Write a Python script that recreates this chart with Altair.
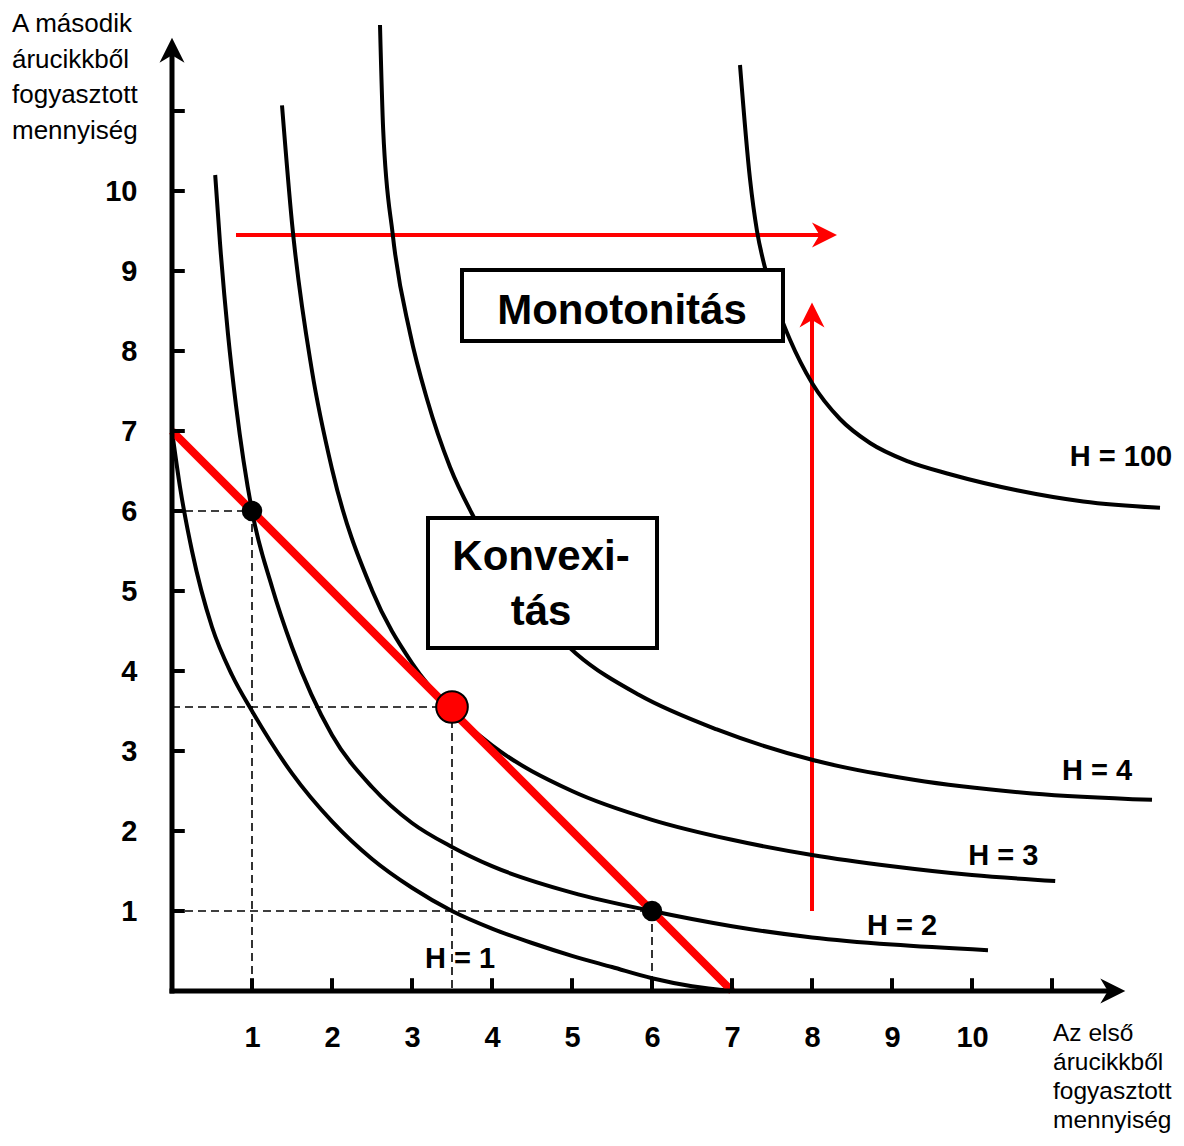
import altair as alt
import pandas as pd

FONT = "Liberation Sans"

# ---- indifference curves ----
h1_x = [0, 0.1, 0.25, 0.5, 0.75, 1, 1.5, 2, 2.5, 3, 3.5, 4, 4.5, 5, 5.5, 6, 6.5, 7]
h1_y = [7, 6.3, 5.5, 4.55, 3.95, 3.5, 2.72, 2.12, 1.65, 1.29, 1.0, 0.78, 0.6, 0.44, 0.3, 0.16, 0.06, 0]

h2_x = [0.54, 0.6, 0.7, 0.8, 1, 1.25, 1.5, 2, 2.5, 3, 3.5, 4, 5, 6, 7, 8, 9, 10.2]
h2_y = [10.2, 9.35, 8.21, 7.32, 6, 5.05, 4.3, 3.2, 2.55, 2.1, 1.8, 1.56, 1.23, 1.0, 0.81, 0.67, 0.58, 0.51]

h3_x = [1.375, 1.5, 1.75, 2, 2.5, 3, 3.5, 4, 5, 6, 7, 8, 9, 10, 11.04]
h3_y = [11.07, 9.6, 7.75, 6.525, 5.01, 4.10, 3.5, 3.07, 2.5, 2.14, 1.89, 1.70, 1.56, 1.45, 1.375]

h4_x = [2.6, 2.64, 2.76, 2.975, 3.19, 3.475, 3.79, 4.4, 5.05, 5.84, 6.81, 8.0, 9.27, 10.75, 12.25]
h4_y = [12.075, 10.76, 9.45, 8.225, 7.39, 6.55, 5.89, 4.9, 4.22, 3.70, 3.27, 2.89, 2.64, 2.47, 2.39]

h100_x = [7.1, 7.225, 7.3125, 7.4125, 7.575, 7.725, 8.0, 8.35, 8.725, 9.2, 9.725, 10.56, 11.39, 12.35]
h100_y = [11.575, 10.15, 9.5, 9.04, 8.52, 8.14, 7.6, 7.15, 6.85, 6.62, 6.46, 6.26, 6.12, 6.04]

# budget line
budget_x = [0, 7]
budget_y = [7, 0]

# chosen bundles
black_dot_x = [1, 6]
black_dot_y = [6, 1]
red_dot_x = [3.5]
red_dot_y = [3.55]

# dashed guides (x, y, x2, y2)
guide_x = [0, 1, 0, 3.5, 0, 6]
guide_y = [6, 6, 3.55, 3.55, 1, 1]
guide_x2 = [1, 1, 3.5, 3.5, 6, 6]
guide_y2 = [6, 0, 3.55, 0, 1, 0]

# axis ticks
tick_values = [1, 2, 3, 4, 5, 6, 7, 8, 9, 10, 11]
label_values = [1, 2, 3, 4, 5, 6, 7, 8, 9, 10]

# curve labels
curve_labels = ["H = 1", "H = 2", "H = 3", "H = 4", "H = 100"]
curve_label_x = [3.6, 9.125, 10.39, 11.5625, 11.8625]
curve_label_y = [0.2875, 0.7, 1.575, 2.6375, 6.5625]

# boxes
box_x = [3.625, 3.2]
box_x2 = [7.6375, 6.0625]
box_y = [9.0125, 5.9125]
box_y2 = [8.125, 4.2875]
box_text = ["Monotonitás", "Konvexi-", "tás"]
box_text_x = [5.625, 4.6125, 4.6125]
box_text_y = [8.3375, 5.2625, 4.575]

# axis titles
ytitle_lines = ["A második", "árucikkből", "fogyasztott", "mennyiség"]
ytitle_x = [-2.0, -2.0, -2.0, -2.0]
ytitle_y = [11.9875, 11.54375, 11.1, 10.65625]
xtitle_lines = ["Az első", "árucikkből", "fogyasztott", "mennyiség"]
xtitle_x = [11.0125, 11.0125, 11.0125, 11.0125]
xtitle_y = [-0.625, -0.9875, -1.35, -1.7125]

# red arrows (monotonicity)
arrow_x = [0.8, 8.0]
arrow_y = [9.45, 1.0]
arrow_x2 = [8.1, 8.0]
arrow_y2 = [9.45, 8.4]
arrowhead_right = (8.156, 9.45)
arrowhead_up = (8.0, 8.45)

# axes
axis_x = [0, 0]
axis_y = [0, 0]
axis_x2 = [0, 11.75]
axis_y2 = [11.75, 0]
axis_head_up = (0, 11.76)
axis_head_right = (11.76, 0)

# ---------------- chart ----------------
xs = alt.Scale(domain=[0, 12.55], nice=False, zero=False)
ys = alt.Scale(domain=[0, 12.2875], nice=False, zero=False)

AX = alt.Axis(values=label_values, title=None, domain=False, ticks=False, grid=False,
              labelPadding=46, labelBaseline="middle", labelFontSize=29,
              labelFontWeight="bold", labelFont=FONT, labelColor="black",
              labelFlush=False, labelOverlap=False)
AY = alt.Axis(values=label_values, title=None, domain=False, ticks=False, grid=False,
              labelPadding=35, labelFontSize=29, labelFontWeight="bold",
              labelFont=FONT, labelColor="black", labelFlush=False, labelOverlap=False)


def X(f="x"):
    return alt.X(f"{f}:Q", scale=xs, axis=AX)


def Y(f="y"):
    return alt.Y(f"{f}:Q", scale=ys, axis=AY)


curves = pd.concat([
    pd.DataFrame({"x": h1_x, "y": h1_y, "c": "H1"}),
    pd.DataFrame({"x": h2_x, "y": h2_y, "c": "H2"}),
    pd.DataFrame({"x": h3_x, "y": h3_y, "c": "H3"}),
    pd.DataFrame({"x": h4_x, "y": h4_y, "c": "H4"}),
    pd.DataFrame({"x": h100_x, "y": h100_y, "c": "H100"}),
], ignore_index=True)

curve_layer = alt.Chart(curves).mark_line(
    color="black", strokeWidth=4, interpolate="monotone"
).encode(x=X(), y=Y(), detail="c:N")

budget_layer = alt.Chart(pd.DataFrame({"x": budget_x, "y": budget_y})).mark_line(
    color="#ff0000", strokeWidth=8
).encode(x=X(), y=Y())

guides = pd.DataFrame({"x": guide_x, "y": guide_y, "x2": guide_x2, "y2": guide_y2})
guide_layer = alt.Chart(guides).mark_rule(
    color="black", strokeWidth=1.6, strokeDash=[8, 5]
).encode(x=X(), y=Y(), x2="x2:Q", y2="y2:Q")

axes = pd.DataFrame({"x": axis_x, "y": axis_y, "x2": axis_x2, "y2": axis_y2})
axis_layer = alt.Chart(axes).mark_rule(color="black", strokeWidth=5, strokeCap="square").encode(
    x=X(), y=Y(), x2="x2:Q", y2="y2:Q")

xticks = pd.DataFrame({"x": tick_values, "y": [0] * len(tick_values)})
xtick_layer = alt.Chart(xticks).mark_rule(color="black", strokeWidth=4).encode(
    x=X(), y=Y(), y2=alt.Y2(datum=0.16))
yticks = pd.DataFrame({"x": [0] * len(tick_values), "y": tick_values})
ytick_layer = alt.Chart(yticks).mark_rule(color="black", strokeWidth=4).encode(
    x=X(), y=Y(), x2=alt.X2(datum=0.16))

UP = "M0,-1L1,1L0,0.4L-1,1Z"
RIGHT = "M1,0L-1,-1L-0.4,0L-1,1Z"

axis_heads_up = alt.Chart(pd.DataFrame({"x": [axis_head_up[0]], "y": [axis_head_up[1]]})).mark_point(
    shape=UP, filled=True, size=625, color="black", opacity=1, strokeWidth=0).encode(x=X(), y=Y())
axis_heads_right = alt.Chart(pd.DataFrame({"x": [axis_head_right[0]], "y": [axis_head_right[1]]})).mark_point(
    shape=RIGHT, filled=True, size=625, color="black", opacity=1, strokeWidth=0).encode(x=X(), y=Y())

arrows = pd.DataFrame({"x": arrow_x, "y": arrow_y, "x2": arrow_x2, "y2": arrow_y2})
arrow_layer = alt.Chart(arrows).mark_rule(color="#ff0000", strokeWidth=4).encode(
    x=X(), y=Y(), x2="x2:Q", y2="y2:Q")
red_head_right = alt.Chart(pd.DataFrame({"x": [arrowhead_right[0]], "y": [arrowhead_right[1]]})).mark_point(
    shape=RIGHT, filled=True, size=625, color="#ff0000", opacity=1, strokeWidth=0).encode(x=X(), y=Y())
red_head_up = alt.Chart(pd.DataFrame({"x": [arrowhead_up[0]], "y": [arrowhead_up[1]]})).mark_point(
    shape=UP, filled=True, size=625, color="#ff0000", opacity=1, strokeWidth=0).encode(x=X(), y=Y())

black_dots = alt.Chart(pd.DataFrame({"x": black_dot_x, "y": black_dot_y})).mark_point(
    shape="circle", filled=True, size=420, color="black", opacity=1, strokeWidth=0).encode(x=X(), y=Y())
red_dot = alt.Chart(pd.DataFrame({"x": red_dot_x, "y": red_dot_y})).mark_point(
    shape="circle", filled=True, size=1000, fill="#ff0000", stroke="black", strokeWidth=2,
    opacity=1).encode(x=X(), y=Y())

boxes = pd.DataFrame({"x": box_x, "y": box_y, "x2": box_x2, "y2": box_y2})
box_layer = alt.Chart(boxes).mark_rect(fill="white", stroke="black", strokeWidth=4).encode(
    x=X(), y=Y(), x2="x2:Q", y2="y2:Q")
box_text_layer = alt.Chart(pd.DataFrame({"x": box_text_x, "y": box_text_y, "t": box_text})).mark_text(
    font=FONT, fontSize=42, fontWeight="bold", color="black", align="center", baseline="alphabetic"
).encode(x=X(), y=Y(), text="t:N")

curve_label_layer = alt.Chart(pd.DataFrame({"x": curve_label_x, "y": curve_label_y, "t": curve_labels})).mark_text(
    font=FONT, fontSize=29, fontWeight="bold", color="black", align="center", baseline="alphabetic"
).encode(x=X(), y=Y(), text="t:N")

ytitle_layer = alt.Chart(pd.DataFrame({"x": ytitle_x, "y": ytitle_y, "t": ytitle_lines})).mark_text(
    font=FONT, fontSize=26, color="black", align="left", baseline="alphabetic"
).encode(x=X(), y=Y(), text="t:N")
xtitle_layer = alt.Chart(pd.DataFrame({"x": xtitle_x, "y": xtitle_y, "t": xtitle_lines})).mark_text(
    font=FONT, fontSize=24.5, color="black", align="left", baseline="alphabetic"
).encode(x=X(), y=Y(), text="t:N")

chart = alt.layer(
    arrow_layer, red_head_right, red_head_up,
    guide_layer,
    curve_layer,
    budget_layer,
    box_layer, box_text_layer,
    axis_layer, xtick_layer, ytick_layer, axis_heads_up, axis_heads_right,
    black_dots, red_dot,
    curve_label_layer, ytitle_layer, xtitle_layer,
).properties(
    width=1004, height=983,
    autosize=alt.AutoSizeParams(type="none"),
    padding={"left": 164, "top": 0, "right": 0, "bottom": 143},
    background="white",
).configure_view(stroke=None)

chart.save("out.html", embed_options={"renderer": "svg", "actions": False})
